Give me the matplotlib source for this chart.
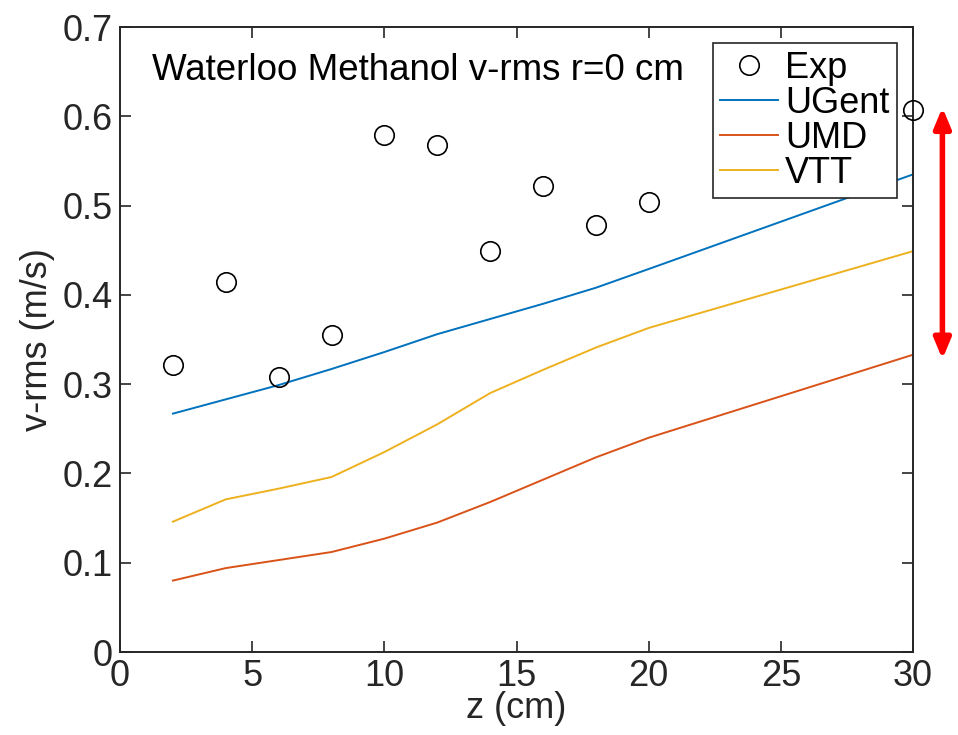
import matplotlib
matplotlib.use("Agg")
import matplotlib.pyplot as plt

# data
z = [2, 4, 6, 8, 10, 12, 14, 16, 18, 20, 30]
exp_vrms = [0.321, 0.414, 0.308, 0.355, 0.579, 0.568, 0.449, 0.522, 0.478, 0.504, 0.607]
ugent = [0.267, 0.283, 0.299, 0.317, 0.336, 0.356, 0.373, 0.390, 0.408, 0.429, 0.535]
umd = [0.080, 0.094, 0.103, 0.112, 0.127, 0.145, 0.168, 0.193, 0.218, 0.240, 0.333]
vtt = [0.146, 0.171, 0.183, 0.196, 0.224, 0.255, 0.290, 0.316, 0.341, 0.363, 0.449]
arrow_span = (0.610, 0.328)

plt.rcParams["font.family"] = ["Liberation Sans", "DejaVu Sans"]
axis_color = "#262626"
fs = 26

fig = plt.figure(figsize=(9.58, 7.35), dpi=100)
ax = fig.add_axes([0.1253, 0.1129, 0.8278, 0.8503])

ax.plot(z, exp_vrms, linestyle="none", marker="o", markersize=14,
        markerfacecolor="none", markeredgecolor="black", markeredgewidth=1.2,
        label="Exp", clip_on=False, zorder=5)
ax.plot(z, ugent, color="#0072BD", linewidth=1.4, label="UGent")
ax.plot(z, umd, color="#D95319", linewidth=1.4, label="UMD")
ax.plot(z, vtt, color="#EDB120", linewidth=1.4, label="VTT")

ax.set_xlim(0, 30)
ax.set_ylim(0, 0.7)
ax.set_xticks(range(0, 31, 5))
ax.set_yticks([0, 0.1, 0.2, 0.3, 0.4, 0.5, 0.6, 0.7])
ax.set_yticklabels(["0", "0.1", "0.2", "0.3", "0.4", "0.5", "0.6", "0.7"])
ax.tick_params(direction="in", top=True, right=True, length=8, width=1.2,
               labelsize=fs, colors=axis_color, pad=5)
for s in ax.spines.values():
    s.set_color(axis_color)
    s.set_linewidth(1.4)

ax.set_xlabel("z (cm)", fontsize=fs, color=axis_color, labelpad=-2)
ax.set_ylabel("v-rms (m/s)", fontsize=fs, color=axis_color, labelpad=6)

ax.text(0.04, 0.93, "Waterloo Methanol v-rms r=0 cm", transform=ax.transAxes,
        fontsize=26.5, ha="left", va="center", color="black")

leg = ax.legend(loc="upper right", fontsize=fs, frameon=True, fancybox=False,
                edgecolor=axis_color, framealpha=1, borderaxespad=0.45,
                handlelength=1.6, handletextpad=0.2, labelspacing=0.0,
                borderpad=0.2)
leg.get_frame().set_linewidth(1.2)

# red double arrow to the right of the axes
ax.annotate("", xy=(1.037, arrow_span[0]), xytext=(1.037, arrow_span[1]),
            xycoords=("axes fraction", "data"), textcoords=("axes fraction", "data"),
            arrowprops=dict(arrowstyle="<|-|>,head_length=1.2,head_width=0.5",
                            color="red", linewidth=4, shrinkA=0, shrinkB=0),
            annotation_clip=False)

fig.savefig("out.png", dpi=100)
